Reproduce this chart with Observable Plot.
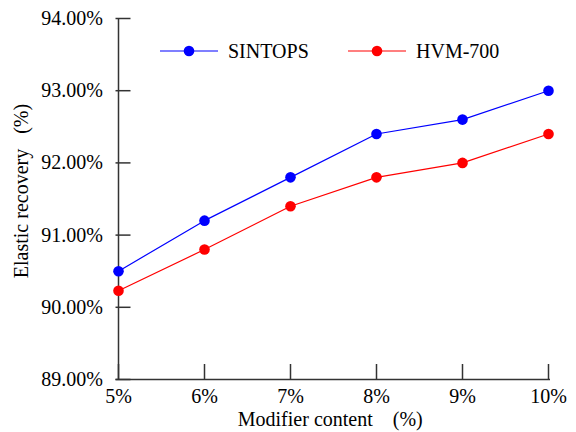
<!DOCTYPE html>
<html>
<head>
<meta charset="utf-8">
<script src="https://cdn.jsdelivr.net/npm/d3@7"></script>
<script src="https://cdn.jsdelivr.net/npm/@observablehq/plot@0.6"></script>
<style>
  html, body { margin: 0; padding: 0; background: #fff; }
</style>
</head>
<body>
<div id="chart"></div>
<script>
const categories = ["5%", "6%", "7%", "8%", "9%", "10%"];
const sintops = [90.5, 91.2, 91.8, 92.4, 92.6, 93.0];
const hvm700 = [90.23, 90.8, 91.4, 91.8, 92.0, 92.4];
const yTicks = [89, 90, 91, 92, 93, 94];
const seriesNames = ["SINTOPS", "HVM-700"];
const seriesColors = ["#0000ff", "#ff0000"];
const xLabel = "Modifier content\u00a0\u00a0\u00a0\u00a0(%)";
const yLabel = "Elastic recovery\u00a0\u00a0\u00a0(%)";

const data = [];
[sintops, hvm700].forEach((vals, s) => {
  vals.forEach((v, i) => data.push({series: seriesNames[s], x: categories[i], y: v}));
});

const FONT = "Liberation Serif";
const axisColor = "#333";
const fs = 20;

const plot = Plot.plot({
  width: 576,
  height: 432,
  marginLeft: 115.5,
  marginRight: 26,
  marginTop: 18,
  marginBottom: 53,
  style: {fontFamily: FONT, fontSize: fs + "px", color: "#000", background: "#fff"},
  x: {type: "point", domain: categories, padding: 0},
  y: {domain: [89, 94]},
  color: {domain: seriesNames, range: seriesColors},
  marks: [
    Plot.ruleY([89], {stroke: axisColor, strokeWidth: 1.5}),
    Plot.ruleX([categories[0]], {stroke: axisColor, strokeWidth: 1.5}),
    Plot.axisY(yTicks, {tickSize: -15, stroke: axisColor, strokeWidth: 1.5, tickFormat: () => "", label: null}),
    Plot.axisY(yTicks, {tickSize: 0, tickPadding: 13, tickFormat: d => d.toFixed(2) + "%", label: null, fontSize: fs, fontFamily: FONT, fill: "#000"}),
    Plot.axisX(categories, {tickSize: -15, stroke: axisColor, strokeWidth: 1.5, tickFormat: () => "", label: null}),
    Plot.axisX(categories, {tickSize: 0, tickPadding: 9, label: null, fontSize: fs, fontFamily: FONT, fill: "#000"}),
    Plot.line(data, {x: "x", y: "y", z: "series", stroke: "series", strokeWidth: 1.2}),
    Plot.dot(data, {x: "x", y: "y", fill: "series", r: 5.3}),
    Plot.text([yLabel], {frameAnchor: "left", rotate: -90, textAnchor: "middle", lineAnchor: "middle", dx: -94, dy: -8, fontSize: fs, fontFamily: FONT, fill: "#000"}),
    Plot.text([xLabel], {frameAnchor: "bottom", textAnchor: "middle", lineAnchor: "middle", dy: 40, dx: -3, fontSize: fs, fontFamily: FONT, fill: "#000"})
  ]
});

// Legend inside the plot area
const svg = d3.select(plot);
const legendItems = seriesNames.map((n, i) => ({name: n, color: seriesColors[i]}));
const legendX = [160, 348];
const legendY = 51;
const g = svg.append("g").attr("font-size", fs).attr("font-family", FONT).attr("text-anchor", "start");
legendItems.forEach((d, i) => {
  const x0 = legendX[i];
  g.append("line").attr("x1", x0).attr("x2", x0 + 58).attr("y1", legendY).attr("y2", legendY)
    .attr("stroke", d.color).attr("stroke-width", 1.2);
  g.append("circle").attr("cx", x0 + 29).attr("cy", legendY).attr("r", 5.3).attr("fill", d.color);
  g.append("text").attr("x", x0 + 68).attr("y", legendY).attr("dy", "0.35em").attr("fill", "#000").text(d.name);
});

document.getElementById("chart").appendChild(plot);
</script>
</body>
</html>
